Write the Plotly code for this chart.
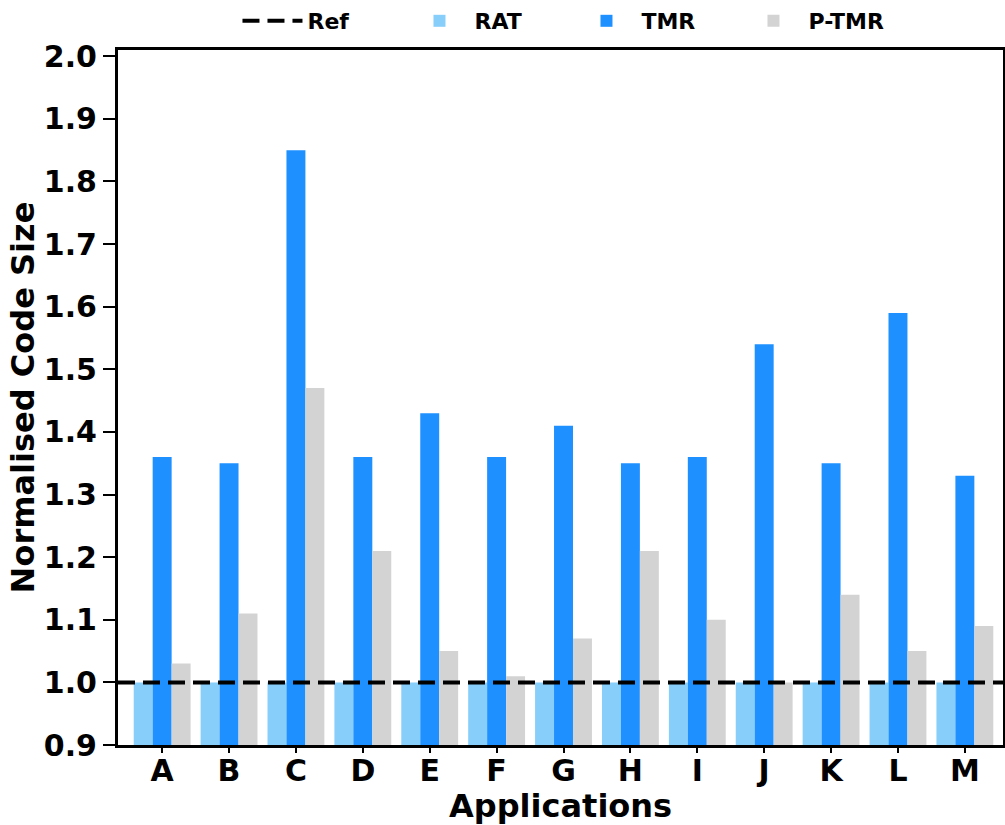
import plotly.graph_objects as go

apps = ["A", "B", "C", "D", "E", "F", "G", "H", "I", "J", "K", "L", "M"]
rat = [1.0] * 13
tmr = [1.36, 1.35, 1.85, 1.36, 1.43, 1.36, 1.41, 1.35, 1.36, 1.54, 1.35, 1.59, 1.33]
ptmr = [1.03, 1.11, 1.47, 1.21, 1.05, 1.01, 1.07, 1.21, 1.10, 1.00, 1.14, 1.05, 1.09]
ref_value = 1.0
y_ticks = [0.9, 1.0, 1.1, 1.2, 1.3, 1.4, 1.5, 1.6, 1.7, 1.8, 1.9, 2.0]

FONT = "DejaVu Sans"
REF_DASH = "17px,8px"

fig = go.Figure()
fig.add_trace(go.Scatter(x=[apps[0]], y=[None], mode="lines", name="Ref",
                         line=dict(color="black", width=4, dash=REF_DASH)))
fig.add_trace(go.Bar(x=apps, y=rat, name="RAT", marker_color="#87CEFA", marker_line_width=0))
fig.add_trace(go.Bar(x=apps, y=tmr, name="TMR", marker_color="#1E90FF", marker_line_width=0))
fig.add_trace(go.Bar(x=apps, y=ptmr, name="P-TMR", marker_color="#D3D3D3", marker_line_width=0))

fig.add_shape(type="line", xref="paper", yref="y", x0=0, x1=1, y0=ref_value, y1=ref_value,
              line=dict(color="black", width=4, dash=REF_DASH), layer="above")

# x-axis title placed as annotation below tick labels
fig.add_annotation(text="Applications", xref="paper", yref="paper", x=0.5, y=-0.088,
                   xanchor="center", yanchor="middle", showarrow=False,
                   font=dict(family=FONT, size=32, color="black", weight="bold"))

fig.update_layout(
    width=1005, height=825,
    margin=dict(l=118, r=2, t=50, b=80),
    plot_bgcolor="white", paper_bgcolor="white",
    barmode="group", bargap=0.15, bargroupgap=0,
    font=dict(family=FONT, color="black"),
    showlegend=True,
    legend=dict(orientation="h", x=0.135, xanchor="left",
                yref="container", y=1.0, yanchor="top",
                bgcolor="rgba(0,0,0,0)",
                font=dict(family=FONT, size=22, color="black", weight="bold"),
                itemwidth=60, entrywidth=92, entrywidthmode="pixels", traceorder="normal"),
)
fig.update_xaxes(
    type="category",
    range=[-0.66, 12.57],
    showline=True, linecolor="black", linewidth=3, mirror=True,
    ticks="outside", ticklen=5, tickwidth=1.5, tickcolor="black",
    ticklabelstandoff=-8,
    tickfont=dict(family=FONT, size=30, color="black", weight="bold"),
    showgrid=False, automargin=False,
)
fig.update_yaxes(
    range=[0.9, 2.01],
    tickvals=y_ticks, ticktext=[f"{v:.1f}" for v in y_ticks],
    showline=True, linecolor="black", linewidth=3, mirror=True,
    ticks="outside", ticklen=12, tickwidth=1.5, tickcolor="black",
    tickfont=dict(family=FONT, size=30, color="black", weight="bold"),
    title=dict(text="Normalised Code Size", font=dict(family=FONT, size=32, color="black", weight="bold"), standoff=0),
    showgrid=False, zeroline=False, automargin=False,
)

fig.write_html("out.html")
